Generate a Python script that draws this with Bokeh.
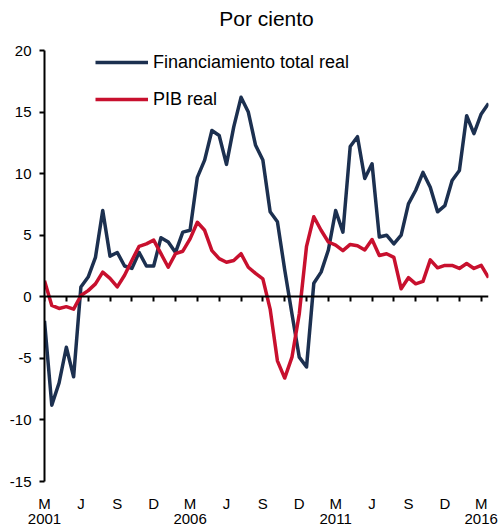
from bokeh.plotting import figure
from bokeh.models import (LinearAxis, FixedTicker, Range1d, Legend, LegendItem, Title)
from bokeh.embed import file_html
from bokeh.resources import INLINE

# Quarterly data, 2001-Q1 (Mar 2001) onward
financiamiento = [-1.95, -8.8, -7.0, -4.1, -6.5, 0.8, 1.6, 3.2, 7.0, 3.3,
                  3.6, 2.5, 2.3, 3.6, 2.5, 2.5, 4.8, 4.45, 3.6, 5.25,
                  5.4, 9.7, 11.1, 13.5, 13.1, 10.75, 13.8, 16.2, 15.0, 12.3,
                  11.1, 6.9, 6.1, 2.2, -1.4, -4.9, -5.7, 1.1, 2.0, 3.8,
                  7.0, 5.25, 12.2, 13.0, 9.6, 10.8, 4.85, 5.0, 4.3, 5.0,
                  7.55, 8.65, 10.1, 8.9, 6.9, 7.4, 9.45, 10.25, 14.7, 13.25,
                  14.85, 15.7]
pib = [1.3, -0.7, -0.95, -0.8, -1.0, 0.1, 0.5, 1.05, 2.0, 1.5,
       0.8, 1.75, 2.95, 4.1, 4.3, 4.6, 3.5, 2.4, 3.5, 3.7,
       4.7, 6.05, 5.4, 3.75, 3.1, 2.8, 2.95, 3.5, 2.4, 1.9,
       1.45, -1.0, -5.2, -6.6, -4.9, -1.4, 4.1, 6.5, 5.4, 4.45,
       4.2, 3.75, 4.25, 4.15, 3.8, 4.65, 3.35, 3.5, 3.2, 0.65,
       1.55, 1.05, 1.25, 3.0, 2.35, 2.55, 2.55, 2.3, 2.7, 2.3,
       2.55, 1.55]
x_idx = list(range(len(financiamiento)))

month_labels = ["M", "J", "S", "D"] * 3 + ["M"]
year_labels = ["2001", "2006", "2011", "2016"]
label_step = 5
tick_step = 3
y_ticks = [-15, -10, -5, 0, 5, 10, 15, 20]

BLUE = "#1C3050"
RED = "#C8102E"
FONT = "Liberation Sans"

p = figure(width=498, height=528, output_backend="svg", toolbar_location=None,
           x_range=Range1d(0, len(x_idx) - 1), y_range=Range1d(-15, 20),
           x_axis_location=None, y_axis_location=None,
           min_border_left=44, min_border_right=10, min_border_top=50,
           min_border_bottom=47)
p.grid.visible = False
p.outline_line_color = None
p.background_fill_color = "white"
p.border_fill_color = "white"

# spacer (closest to the frame) so the title sits higher, then the title itself
p.add_layout(Title(text=" ", text_font_size="1px", standoff=17), "above")
p.add_layout(Title(text="Por ciento", align="center", text_font=FONT,
                   text_font_size="21px", text_font_style="normal",
                   text_color="#000000", offset=0, standoff=2), "above")

# y axis (hyphen-minus labels as in the original)
yax = LinearAxis(ticker=FixedTicker(ticks=y_ticks), axis_line_color="black",
                 axis_line_width=2, major_tick_line_width=2,
                 major_tick_out=5, major_tick_in=0, minor_tick_line_color=None,
                 major_label_overrides={t: str(t) for t in y_ticks},
                 major_label_text_font=FONT, major_label_text_font_size="15px",
                 major_label_standoff=8, major_label_text_color="black")
p.add_layout(yax, "left")

# zero-line axis with tick marks
zax = LinearAxis(fixed_location=0,
                 ticker=FixedTicker(ticks=list(range(0, len(x_idx), tick_step))),
                 axis_line_color="black", axis_line_width=2,
                 major_tick_line_width=2, major_tick_out=5, major_tick_in=0,
                 minor_tick_line_color=None, major_label_text_alpha=0,
                 major_label_text_font_size="1px", major_label_standoff=0)
p.add_layout(zax, "below")

month_ticks = list(range(0, len(x_idx), label_step))[:len(month_labels)]
mx = LinearAxis(ticker=FixedTicker(ticks=month_ticks),
                major_label_overrides={t: l for t, l in zip(month_ticks, month_labels)},
                axis_line_color=None, major_tick_line_color=None,
                minor_tick_line_color=None, major_label_standoff=7,
                major_label_text_font=FONT, major_label_text_font_size="15px",
                major_label_text_color="black")
p.add_layout(mx, "below")

year_ticks = month_ticks[::4]
yx = LinearAxis(ticker=FixedTicker(ticks=year_ticks),
                major_label_overrides={t: l for t, l in zip(year_ticks, year_labels)},
                axis_line_color=None, major_tick_line_color=None,
                minor_tick_line_color=None, major_label_standoff=-7,
                major_label_text_font=FONT, major_label_text_font_size="15px",
                major_label_text_color="black")
p.add_layout(yx, "below")

r1 = p.line(x_idx, financiamiento, line_color=BLUE, line_width=3.5, line_join="round")
r2 = p.line(x_idx, pib, line_color=RED, line_width=3.5, line_join="round")

legend = Legend(items=[LegendItem(label="Financiamiento total real", renderers=[r1]),
                       LegendItem(label="PIB real", renderers=[r2])],
                location=(51, 371), orientation="vertical",
                background_fill_alpha=0, border_line_color=None,
                padding=0, margin=0, spacing=15, glyph_width=53, glyph_height=22,
                label_height=22, label_standoff=5,
                label_text_font=FONT, label_text_font_size="18px",
                label_text_color="black")
p.add_layout(legend, "center")

open("out.html", "w").write(file_html(p, INLINE))
